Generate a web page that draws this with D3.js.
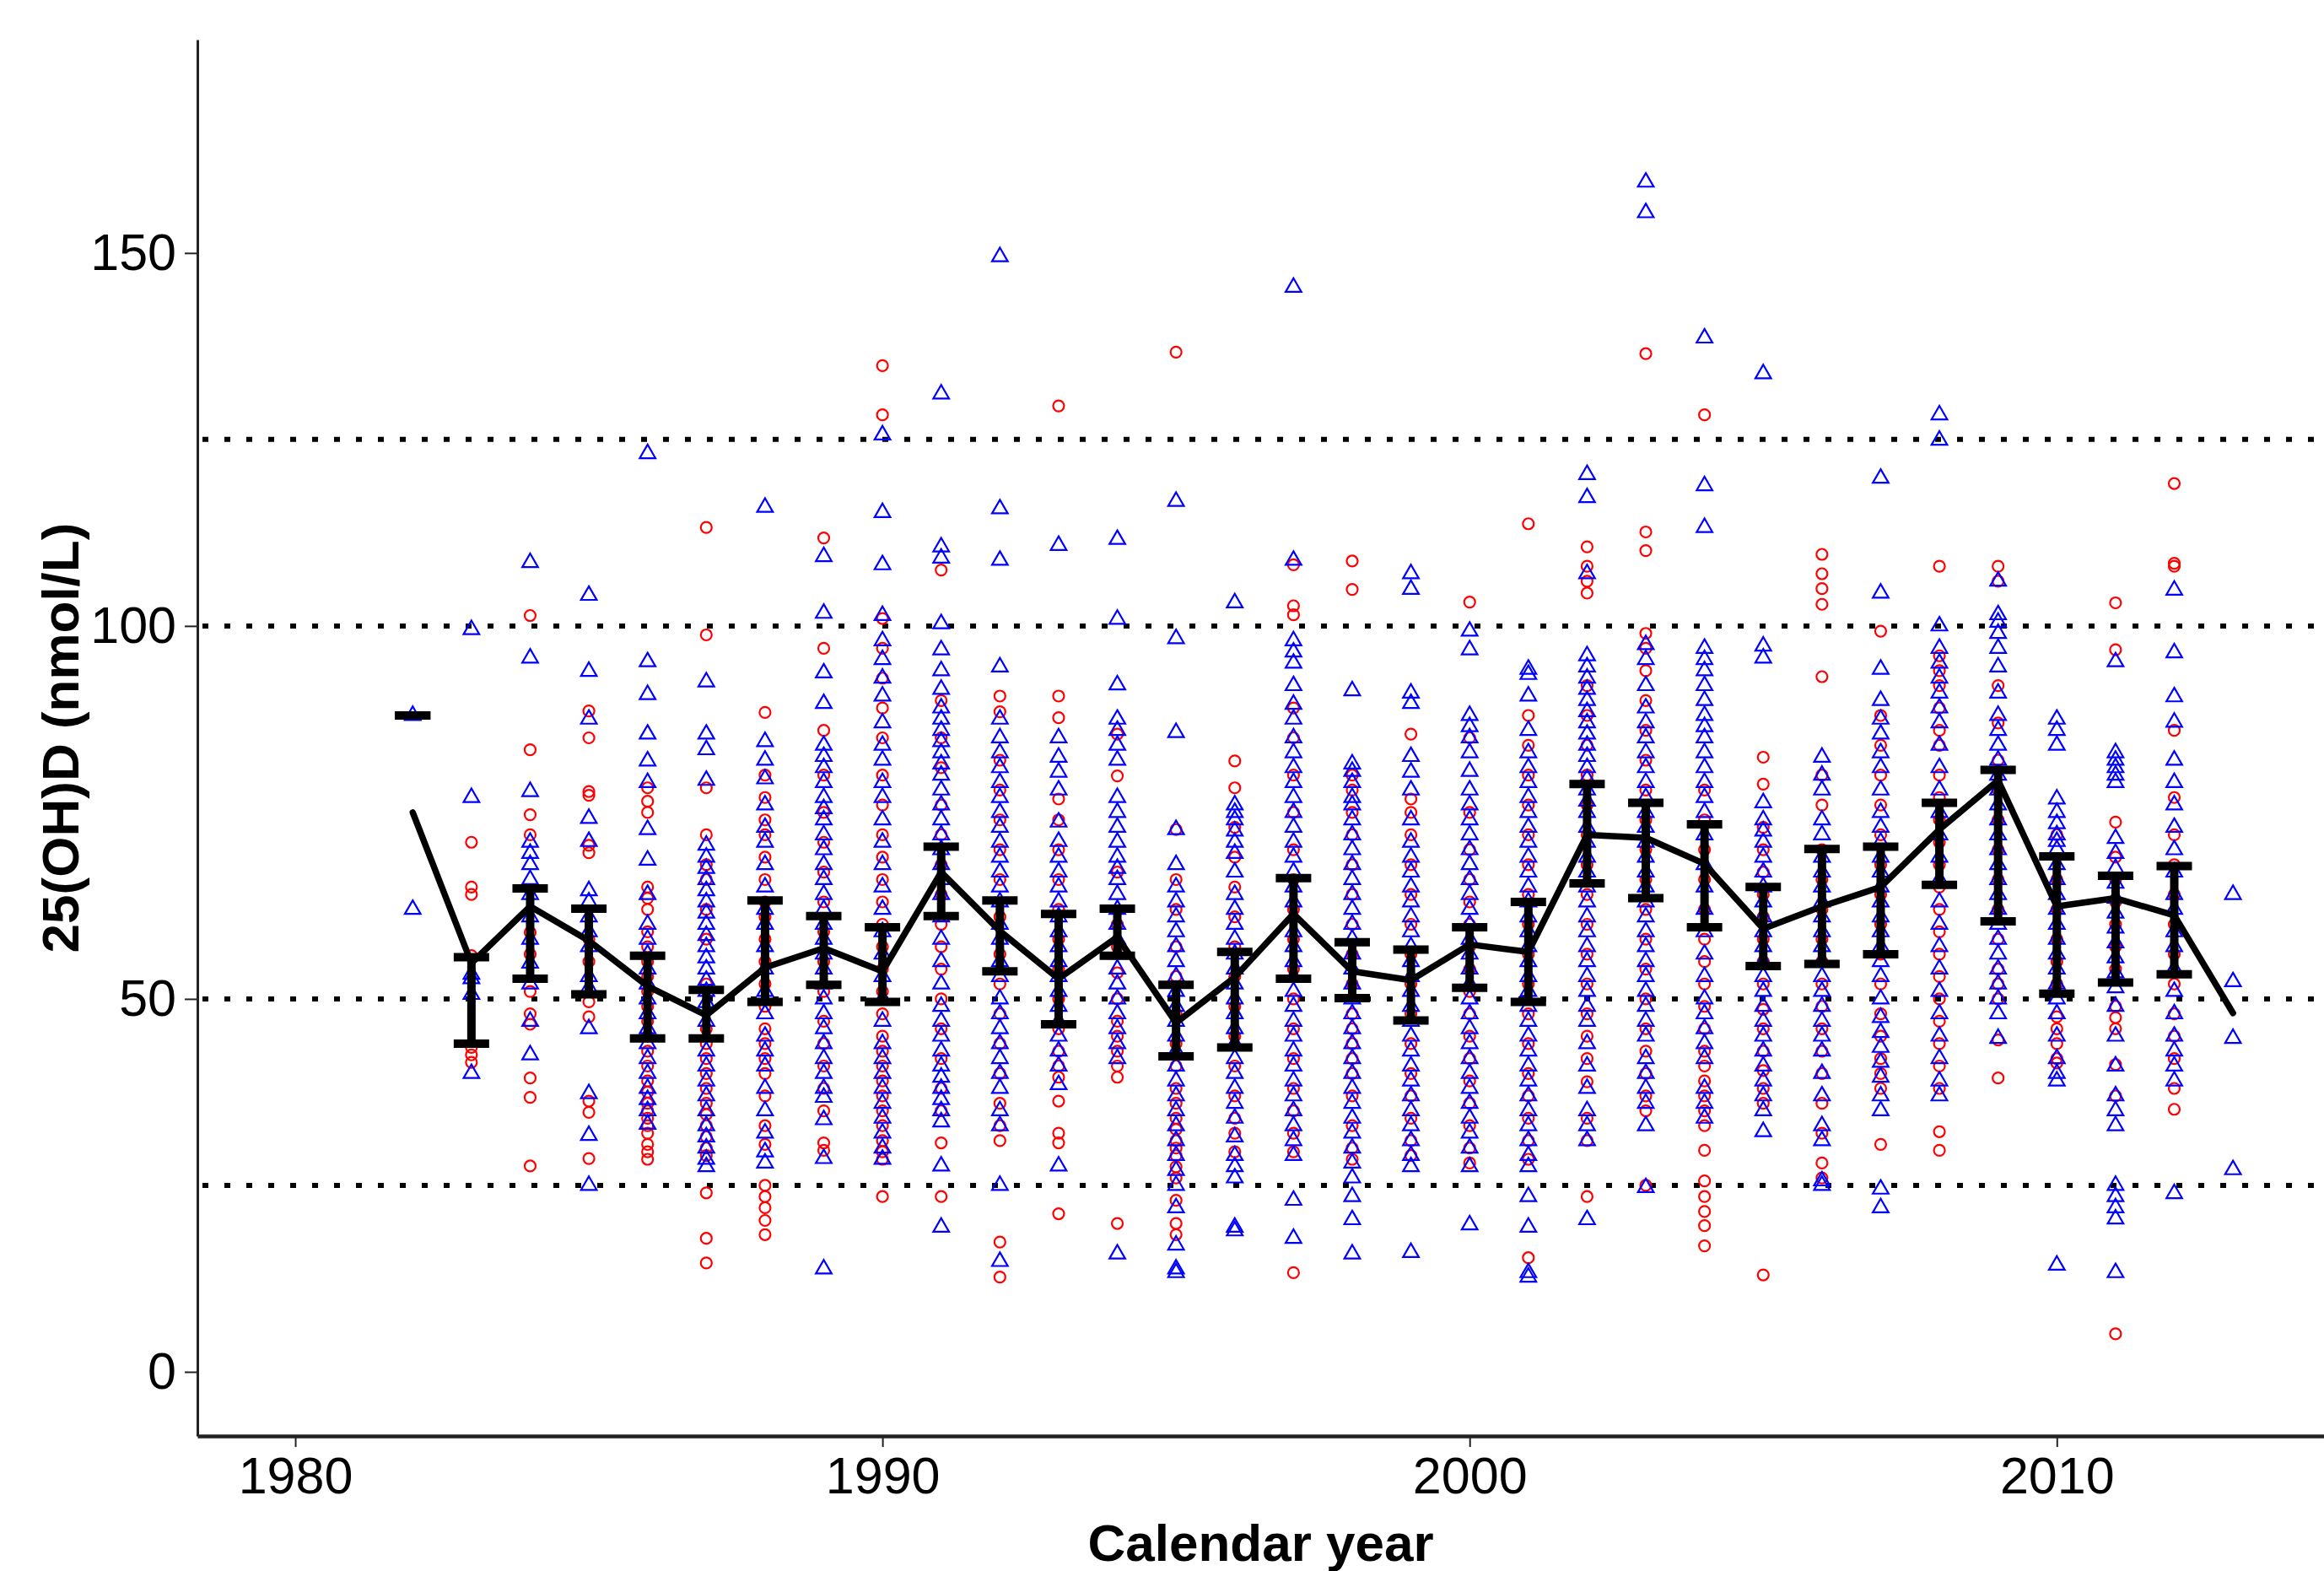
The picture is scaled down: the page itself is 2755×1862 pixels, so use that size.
<!DOCTYPE html>
<html>
<head>
<meta charset="utf-8">
<script src="https://cdn.jsdelivr.net/npm/d3@7"></script>
<style>
  html, body { margin: 0; padding: 0; background: #fff; }
  svg { display: block; }
  text { font-family: "Liberation Sans", Arial, sans-serif; }
</style>
</head>
<body>
<svg id="chart" width="2755" height="1862"></svg>
<script>
const years = [1982,1983,1984,1985,1986,1987,1988,1989,1990,1991,1992,1993,1994,1995,1996,1997,1998,1999,2000,2001,2002,2003,2004,2005,2006,2007,2008,2009,2010,2011,2012,2013];

const meanValues = [75,54.8,62.4,57.8,51.7,47.8,54.2,56.8,53.7,67,59.1,52.7,58.3,46.8,52.9,61.4,53.7,52.5,57.3,56.3,72,71.6,68.1,59.4,62.4,65,72.7,79.3,62.4,63.5,61.2,48.1];
const ciLow  = [88,44,52.7,50.6,44.7,44.7,49.6,51.9,49.6,61.1,53.7,46.6,55.8,42.3,43.5,52.7,50.1,47.1,51.5,49.6,65.5,63.5,59.6,54.4,54.7,56,65.3,60.4,50.7,52.2,53.3,null];
const ciHigh = [88,55.6,64.8,62.1,55.8,51.2,63.2,61.1,59.6,70.4,63.2,61.4,62.1,51.9,56.3,66.2,57.6,56.6,59.6,63,78.8,76.3,73.4,65,70.1,70.4,76.3,80.7,69.1,66.5,67.8,null];

const refLines = [25, 50, 100, 125];
const xTicks = [1980, 1990, 2000, 2010];
const yTicks = [0, 50, 100, 150];

// red circles, one list per year
const circleValues = [
  [],
  [71,65,64,55.8,43.5,42.5,41.5],
  [101.4,83.4,74.7,72,58.9,56,51,48,46.6,39.4,36.8,27.6],
  [88.6,85,77.8,77.3,70.6,69.6,58,55,49.6,47.6,36.3,34.8,28.6],
  [78.3,76.5,75,65,63.5,62,59,57,55,53,51,49,47,45,43,41,39,37.5,36,35,34,33,32,30.5,29.5,28.5],
  [113.2,98.8,78.3,72,68,66,62,58,52,46,44,42,40,38,36,34.5,33,31.5,30,29,24,17.9,14.6],
  [88.4,80,77,74,72,69,66,63,61,58,55,52,49,46,44,42,40,37,33,30.5,25,23.5,22,20.3,18.4],
  [111.8,97,86,80,75,71,67,63,59,55,51,47,44,41,38,35,30.7,29.7],
  [134.9,128.3,101,97,93,89,85,80,76,72,69,66,63,60,57,54,51,48,45,43,41,39,37,35,33,31,29.5,28.5,23.5],
  [107.5,90,85,81,76,72,68,64,60,57,54,50,46,42,38,35,30.7,23.5],
  [90.6,88.5,82,78,74,70,66,61,56,52,48,44,40,36,33,31,17.4,12.7],
  [129.5,90.6,87.7,76.8,74,70,66,62,58,54,50,46,43,41,39.5,36.3,32,30.7,21.2],
  [85.5,79.9,67,60,57,53.5,50,47,45,43,41,39.5,19.9],
  [136.7,72.7,66,62,57,53,48,44,41,38,36,34,32.5,31,30,29,27.5,26,23,19.9,18.4],
  [81.9,78.3,73,69,65,61,57,53,49,45,41,37,34,32,29.5],
  [108.2,102.7,101.5,89,85,80,75,70,66,62,58,54,50,46,42,38,35,32,29.5,13.3],
  [108.7,104.9,80,78,75,72,68,64,60,56,52,48,46,44,42,40,37,33,30,28.5],
  [85.5,76.8,75,72,68,64,60,56,52,48,44,40,37,34,31,29],
  [103.2,85,75,70,66,63,60,57,54,51,48,45,42,39,36,33,30,28],
  [113.7,88,84,80,76,72,68,64,60,56,52,48,44,40,37,34,31,28.5,15.3],
  [110.6,108,106,104.4,92,88,84,80,76,72,68,64,60,56,52,48,45,42,38.9,34,31,23.5],
  [136.5,112.6,110.1,99,97,94,90,86,82,78,74,70,66,62,58,54,50,46,43,40,37,35,25],
  [128.3,78,74,70,66,62,58,55,52,49,46,43,41,39,37,35,33,29.7,25.6,23.5,21.5,19.6,16.9],
  [82.4,78.8,73,70,67,64,61,58,55,52,48.6,46,43,40.4,38,36,13],
  [109.6,107,105,102.9,93.2,80,76,70,66,62,58,55,52,49,46,43,40,36,32,28,26],
  [99.3,88,84,80,76,72,68,64,60,56,52,48,45,42,40,38,30.5],
  [108,96,94,92,89,86,84,80,77,74,71,68,65,62,59,56,53,50,47,44,41,38,32.2,29.7],
  [108,106,92,87,82,78,74,70,66,62,58,54,52,50,44.5,39.4],
  [72,66,62,58,55,52,47.6,46,44,42,41.4],
  [103.1,96.8,73.7,69,66,63,60,57,54,49,47.5,46,41.2,37,5.1],
  [119.1,108.4,108,86,77,72,68,64,60,56,52,48,45,42,38,35.2],
  []
];

// blue triangles, one list per year
const triangleValues = [
  [88,62],
  [99.5,77,53.3,52.7,50.6,40],
  [108.5,95.7,77.8,71,69.5,68,66,64,61,58,54.8,52,47,42.5],
  [104.1,93.9,87.5,74.2,71.1,64.5,63,61,59,57,53,51.5,46,37.3,31.7,25],
  [123.1,95.2,90.8,85.5,81.9,79,72.7,68.6,64,60,58,56,54,52,50,48,46,44,42,40,38,36.5,35,33.2],
  [92.5,85.5,83.4,79.3,70.6,69,67.5,66,64.5,63,61.5,60,58.5,57,55.5,54,52.5,51,49.5,47,43,41,39,37,35,33,31.5,30,28.5,27.5],
  [115.9,84.5,82,79.5,76,73,71,68,65,62,60,57,54,51,48,45,43,41,38,35,32,29.5,28],
  [109.3,101.7,93.7,89.6,84,82.5,81,79,77,75.5,74,72,70,68,66,64,62,60,58,56,54,52,50,48,46,44,42,40,38,36.8,33.8,28.6,13.8],
  [125.6,115.2,108.2,101.4,98,95.5,93,90.6,87,84,82,79,77,74,71,68,65,62,59,56,53,50,47,44,42,40,38,36,34,32,30,28.5],
  [131.1,110.6,109.1,100.3,96.8,94,91.5,89,87.5,86,84.5,83,81.5,80,78,76,74,72,70,68,66,64,61,58,55,52,49,47,45,43,41,39.5,38,36.5,35,33.5,27.6,19.4],
  [149.5,115.7,108.8,94.5,87.5,85,83,81,79,77,75,73,71,69,67,65,63,60,58,55,53,50,48,46,44,42,40,38,35,33,25,14.8],
  [110.8,85,82.4,80.4,78,73.7,71.1,69,67,65,63,61,59,57,55,53,51,49,47,45,43,41,38.5,27.6],
  [111.6,100.9,92.1,87.5,86,84,82,77,75,73,71,69,67.5,66,64,62,60,58,56,54,52,50,48,46,44,42,15.8],
  [116.7,98.3,85.7,72.7,68,65,63,61,59,57,55,53,51,49,47,45,43,41,39,37,35,33,31,29,27,25,22,17,13.8,13.3],
  [103.1,76,75,74,72.5,71,69.5,67,64,62,60,58,56,54,52,50,48,46,44,42,40,38,36,34,31.5,29,27.5,26,19.4,18.9],
  [145.4,108.8,98,96.5,95,92,89.5,87.5,85,83,81,79,77,75,73,71,69,67,65,63,61,59,57,55,53,51,49,47,45,43,41,39,37,35,33,31,29,23,17.9],
  [91.3,81.5,80.5,79,77,76,74,72,70,68,66,64,62,60,58,56,54,52,50,48,46,44,42,40,38,36,34,32,30,28,26,23.5,20.4,15.8],
  [107,104.9,91,89.6,82.5,80.4,78,74,71,69,67,65,63,61,59,57,55,53,51,49,47,45,43,41,39,37,35,33,31,29,27.5,16],
  [99.3,96.8,88,86.5,85,83,80.5,78,76,74,72,70,68,66,64,62,60,58,56,54,52,50,48,46,44,42,40,38,36,34,32,30,27.5,19.7],
  [94.2,93.5,90.6,86,83,81,79,77,75,73,71,69,67,65,63,61,59,57,55,53,51,49,47,45,43,41,39,37,35,33,31,29,27.5,23.5,19.4,13.3,12.7],
  [120.3,117.2,107,96,94.5,93,91.5,90,88.5,87,85.5,84,82.5,81,79.5,78,76.5,75,73,71,69,67,65,63,61,59,57,55,53,51,49,47,44,41,38,35,33,31,20.4],
  [159.5,155.4,97.5,95.5,92,89,87,85,83,81,79,77,75,73,71,69,67,65,63,61,59,57,55,53,51,49,47,45,42,40,38,36,33,24.7],
  [138.6,118.8,113.2,97,95.5,94,92,90,88,86.5,85,83,81,79,77,75,72,68,65,62,59,56,53,50,48,46,44,42,38,36,34],
  [133.8,97.3,95.7,76.3,74,72.5,71,69,67,65,63,61,59,57,55,53,51,49,47,45,43,41,39,37,35,32.2],
  [82.4,80,78,74,72,69,67,65,63,61,59,57,55,53,51,49,47,45,43,40,37,33,31,25.6,25],
  [119.8,104.4,94.2,90,87.5,85.5,83,81,78,75,73,71,69,67,65,63,61,59,57,55,53,50,47.5,45.5,43.5,41.5,39.5,37,35,24.5,22],
  [128.3,124.9,100,97,95,93,91,89,87,84,81,78,75,72,69,66,63,60,57,54,51,48,45,42,39,37],
  [106,101.5,100.5,99,97,94.5,91,88,86,84,82,80,78,76,74,72,70,68,66,64,62,60,58,56,54,52,50,48,44.7],
  [87.5,86,84,76.8,75,73.5,72,71.1,70,68,66,64,62,60,58,56,54,52,50,48,45,42,40,39,14.3],
  [95.2,83,82,81,80,79,71.5,69.5,67.5,65.5,63.5,61.5,59.5,57.5,55.5,53.5,51.5,49,45,41,37,35,33,25,23.5,22,20.5,13.3],
  [104.8,96.4,90.5,87.1,82,79,76,73,70,67,64,62,59,57,54,51,48,45,43,41,39,23.9],
  [64,52.3,44.7,27.1]
];

const svg = d3.select("#chart");
const plotLeft = 234, plotRight = 2755, plotTop = 47, plotBottom = 1702;

const x = d3.scaleLinear().domain([1978.333, 2014.55]).range([plotLeft, plotRight]);
const y = d3.scaleLinear().domain([-8.6, 178.6]).range([plotBottom, plotTop]);

// reference dotted lines
svg.append("g").selectAll("line").data(refLines).join("line")
  .attr("x1", plotLeft + 6).attr("x2", plotRight)
  .attr("y1", d => y(d)).attr("y2", d => y(d))
  .attr("stroke", "#000").attr("stroke-width", 6)
  .attr("stroke-dasharray", "7,19");

// points
const gPts = svg.append("g");
const circData = [], triData = [];
years.forEach((yr, i) => {
  circleValues[i].forEach(v => circData.push({yr, v}));
  triangleValues[i].forEach(v => triData.push({yr, v}));
});
gPts.selectAll("circle").data(circData).join("circle")
  .attr("cx", d => x(d.yr)).attr("cy", d => y(d.v)).attr("r", 6.5)
  .attr("fill", "none").attr("stroke", "#ff0000").attr("stroke-width", 2.2);
const tri = d3.symbol().type(d3.symbolTriangle).size(150);
gPts.selectAll("path.tri").data(triData).join("path")
  .attr("class", "tri")
  .attr("d", tri)
  .attr("transform", d => `translate(${x(d.yr)},${y(d.v)})`)
  .attr("fill", "none").attr("stroke", "#0000ff").attr("stroke-width", 2.2);

// error bars
const ebData = years.map((yr, i) => ({yr, lo: ciLow[i], hi: ciHigh[i]})).filter(d => d.lo !== null);
const gEb = svg.append("g").attr("stroke", "#000");
gEb.selectAll("line.v").data(ebData).join("line").attr("class", "v")
  .attr("x1", d => x(d.yr)).attr("x2", d => x(d.yr))
  .attr("y1", d => y(d.lo)).attr("y2", d => y(d.hi)).attr("stroke-width", 10);
gEb.selectAll("line.capL").data(ebData).join("line").attr("class", "capL")
  .attr("x1", d => x(d.yr) - 21).attr("x2", d => x(d.yr) + 21)
  .attr("y1", d => y(d.lo)).attr("y2", d => y(d.lo)).attr("stroke-width", 10);
gEb.selectAll("line.capH").data(ebData).join("line").attr("class", "capH")
  .attr("x1", d => x(d.yr) - 21).attr("x2", d => x(d.yr) + 21)
  .attr("y1", d => y(d.hi)).attr("y2", d => y(d.hi)).attr("stroke-width", 10);

// mean line
const line = d3.line().x((d, i) => x(years[i])).y(d => y(d));
svg.append("path").datum(meanValues)
  .attr("d", line).attr("fill", "none").attr("stroke", "#000")
  .attr("stroke-width", 7.5).attr("stroke-linejoin", "round").attr("stroke-linecap", "round");

// axes
const yAxis = d3.axisLeft(y).tickValues(yTicks).tickSize(15).tickSizeOuter(0).tickPadding(10);
const gy = svg.append("g").attr("transform", `translate(${plotLeft},0)`).call(yAxis);
gy.select(".domain").attr("stroke", "#222").attr("stroke-width", 3);
gy.selectAll(".tick line").attr("stroke", "#222").attr("stroke-width", 2);
gy.selectAll(".tick text").attr("font-size", 61).attr("fill", "#000")
  .attr("font-family", "'Liberation Sans', Arial, sans-serif");

const xAxis = d3.axisBottom(x).tickValues(xTicks).tickFormat(d3.format("d")).tickSize(13).tickSizeOuter(0).tickPadding(12);
const gx = svg.append("g").attr("transform", `translate(0,${plotBottom})`).call(xAxis);
gx.select(".domain").attr("stroke", "#222").attr("stroke-width", 4.5);
gx.selectAll(".tick line").attr("stroke", "#222").attr("stroke-width", 2);
gx.selectAll(".tick text").attr("font-size", 61).attr("fill", "#000")
  .attr("font-family", "'Liberation Sans', Arial, sans-serif");

// titles
svg.append("text").attr("x", (plotLeft + plotRight) / 2).attr("y", 1850)
  .attr("text-anchor", "middle").attr("font-size", 62).attr("font-weight", "bold")
  .text("Calendar year");
svg.append("text").attr("transform", `translate(93,${(plotTop + plotBottom) / 2}) rotate(-90)`)
  .attr("text-anchor", "middle").attr("font-size", 62).attr("font-weight", "bold")
  .text("25(OH)D (nmol/L)");
</script>
</body>
</html>
